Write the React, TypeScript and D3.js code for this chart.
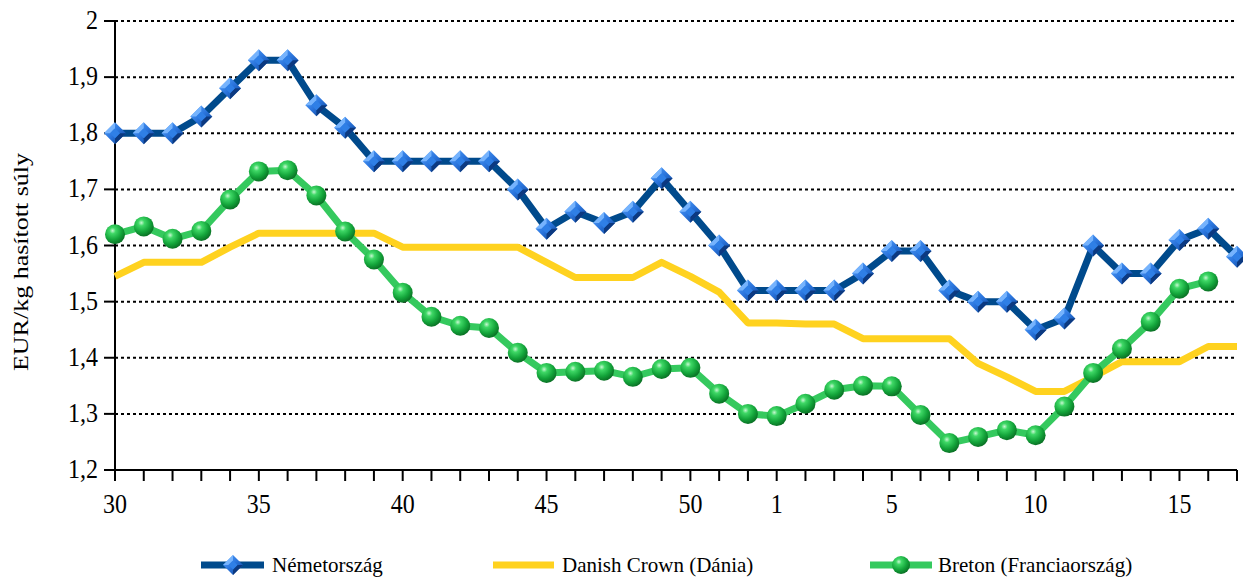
import React from "react";
import * as d3 from "d3";

const weeks: number[] = [
  30, 31, 32, 33, 34, 35, 36, 37, 38, 39, 40, 41, 42, 43, 44, 45, 46, 47, 48, 49, 50, 51, 52,
  1, 2, 3, 4, 5, 6, 7, 8, 9, 10, 11, 12, 13, 14, 15, 16, 17,
];

const nemetorszag: (number | null)[] = [
  1.80, 1.80, 1.80, 1.83, 1.88, 1.93, 1.93, 1.85, 1.81, 1.75, 1.75, 1.75, 1.75, 1.75, 1.70,
  1.63, 1.66, 1.64, 1.66, 1.72, 1.66, 1.60, 1.52, 1.52, 1.52, 1.52, 1.55, 1.59, 1.59, 1.52,
  1.50, 1.50, 1.45, 1.47, 1.60, 1.55, 1.55, 1.61, 1.63, 1.58,
];

const danishCrown: (number | null)[] = [
  1.545, 1.57, 1.57, 1.57, 1.597, 1.622, 1.622, 1.622, 1.622, 1.622, 1.597, 1.597, 1.597,
  1.597, 1.597, 1.57, 1.543, 1.543, 1.543, 1.57, 1.545, 1.517, 1.462, 1.462, 1.46, 1.46,
  1.434, 1.434, 1.434, 1.434, 1.39, 1.366, 1.34, 1.34, 1.366, 1.393, 1.393, 1.393, 1.42, 1.42,
];

const breton: (number | null)[] = [
  1.62, 1.634, 1.612, 1.626, 1.682, 1.732, 1.734, 1.689, 1.625, 1.575, 1.516, 1.473, 1.457,
  1.453, 1.409, 1.373, 1.375, 1.377, 1.366, 1.38, 1.382, 1.336, 1.30, 1.296, 1.318, 1.343,
  1.35, 1.349, 1.298, 1.248, 1.259, 1.271, 1.262, 1.313, 1.373, 1.416, 1.464, 1.523, 1.536, null,
];

const yTicks: number[] = [1.2, 1.3, 1.4, 1.5, 1.6, 1.7, 1.8, 1.9, 2.0];
const xTickLabels: number[] = [30, 35, 40, 45, 50, 1, 5, 10, 15];

const seriesNames: string[] = ["Németország", "Danish Crown (Dánia)", "Breton (Franciaország)"];

const W = 1243;
const H = 578;
const left = 115;
const right = 1237;
const top = 21;
const bottom = 470;

const FONT = "'Liberation Serif', 'Times New Roman', serif";

function fmt(v: number): string {
  const s = Math.abs(v - Math.round(v)) < 1e-9 ? String(Math.round(v)) : v.toFixed(1);
  return s.replace(".", ",");
}

function Diamond({ x, y, s }: { x: number; y: number; s: number }) {
  const i = s * 0.45;
  return (
    <g transform={`translate(${x},${y})`}>
      <path d={`M0,${-s} L${s},0 L0,${s} L${-s},0 Z`} fill="url(#diamGrad)" />
      <path d={`M0,${-s} L${-s},0 L${-i},0 L0,${-i} Z`} fill="#7cb8ff" opacity={0.9} />
      <path d={`M0,${s} L${s},0 L${i},0 L0,${i} Z`} fill="#0a357a" opacity={0.9} />
      <path d={`M0,${-i} L${i},0 L0,${i} L${-i},0 Z`} fill="#2f7fe6" />
    </g>
  );
}

function Ball({ x, y, r }: { x: number; y: number; r: number }) {
  return <circle cx={x} cy={y} r={r} fill="url(#ballGrad)" />;
}

export default function App() {
  const x = d3
    .scalePoint<string>()
    .domain(weeks.map(String))
    .range([left, right]);
  const y = d3.scaleLinear().domain([1.2, 2.0]).range([bottom, top]);

  const lineGen = d3
    .line<number | null>()
    .defined((d) => d !== null)
    .x((_, i) => x(String(weeks[i])) as number)
    .y((d) => y(d as number));

  const pts = (arr: (number | null)[]) =>
    arr
      .map((v, i) => ({ v, i }))
      .filter((p) => p.v !== null)
      .map((p) => ({ px: x(String(weeks[p.i])) as number, py: y(p.v as number), key: p.i }));

  const blue = "#004a8c";
  const yellow = "#ffd21f";
  const green = "#35c95e";

  const legendY = 565;

  return (
    <svg
      width={W}
      height={H}
      style={{ position: "absolute", left: 0, top: 0, background: "#fff" }}
      fontFamily={FONT}
    >
      <defs>
        <linearGradient id="diamGrad" x1="0" y1="0" x2="1" y2="1">
          <stop offset="0%" stopColor="#5aa6ff" />
          <stop offset="50%" stopColor="#2a74dc" />
          <stop offset="100%" stopColor="#0b3f8f" />
        </linearGradient>
        <radialGradient id="ballGrad" cx="38%" cy="32%" r="70%">
          <stop offset="0%" stopColor="#c8f7d2" />
          <stop offset="22%" stopColor="#3fd866" />
          <stop offset="65%" stopColor="#13a43a" />
          <stop offset="100%" stopColor="#0a6f24" />
        </radialGradient>
      </defs>

      {/* grid lines */}
      {yTicks.map((t) => (
        <line
          key={`g${t}`}
          x1={left}
          x2={right}
          y1={y(t)}
          y2={y(t)}
          stroke="#000"
          strokeWidth={2}
          strokeDasharray="3,3"
        />
      ))}

      {/* y axis */}
      <line x1={left} x2={left} y1={top} y2={bottom} stroke="#000" strokeWidth={2} />
      {yTicks.map((t) => (
        <g key={`yt${t}`}>
          <line x1={left - 11} x2={left} y1={y(t)} y2={y(t)} stroke="#000" strokeWidth={2} />
          <text
            transform={`translate(98,${y(t) + 8}) scale(1,1.15)`}
            textAnchor="end"
            fontSize={24}
            fill="#000"
          >
            {fmt(t)}
          </text>
        </g>
      ))}

      {/* x axis */}
      <line x1={left} x2={right} y1={bottom} y2={bottom} stroke="#000" strokeWidth={2} />
      {weeks.map((w) => (
        <line
          key={`xt${w}`}
          x1={x(String(w)) as number}
          x2={x(String(w)) as number}
          y1={bottom}
          y2={bottom + 11}
          stroke="#000"
          strokeWidth={2}
        />
      ))}
      {xTickLabels.map((w) => (
        <text
          key={`xl${w}`}
          transform={`translate(${x(String(w))},513) scale(1,1.1)`}
          textAnchor="middle"
          fontSize={24}
          fill="#000"
        >
          {w}
        </text>
      ))}

      {/* y title */}
      <text
        transform="translate(28,262) rotate(-90) scale(1.3,1)"
        textAnchor="middle"
        fontSize={20}
        fill="#000"
      >
        EUR/kg hasított súly
      </text>

      {/* series lines */}
      <path d={lineGen(nemetorszag) || ""} fill="none" stroke={blue} strokeWidth={7} strokeLinejoin="round" />
      <path d={lineGen(danishCrown) || ""} fill="none" stroke={yellow} strokeWidth={7} strokeLinejoin="round" />
      <path d={lineGen(breton) || ""} fill="none" stroke={green} strokeWidth={7} strokeLinejoin="round" />

      {/* markers */}
      {pts(nemetorszag).map((p) => (
        <Diamond key={`d${p.key}`} x={p.px} y={p.py} s={11} />
      ))}
      {pts(breton).map((p) => (
        <Ball key={`b${p.key}`} x={p.px} y={p.py} r={10} />
      ))}

      {/* legend */}
      <g>
        <line x1={201} x2={264} y1={legendY} y2={legendY} stroke={blue} strokeWidth={7} />
        <Diamond x={233} y={legendY} s={10} />
        <text x={272} y={legendY + 7} fontSize={21} fill="#000">
          {seriesNames[0]}
        </text>

        <line x1={493} x2={554} y1={legendY} y2={legendY} stroke={yellow} strokeWidth={7} />
        <text x={562} y={legendY + 7} fontSize={21} fill="#000">
          {seriesNames[1]}
        </text>

        <line x1={870} x2={932} y1={legendY} y2={legendY} stroke={green} strokeWidth={7} />
        <Ball x={901} y={legendY} r={9} />
        <text x={938} y={legendY + 7} fontSize={21} fill="#000">
          {seriesNames[2]}
        </text>
      </g>
    </svg>
  );
}
